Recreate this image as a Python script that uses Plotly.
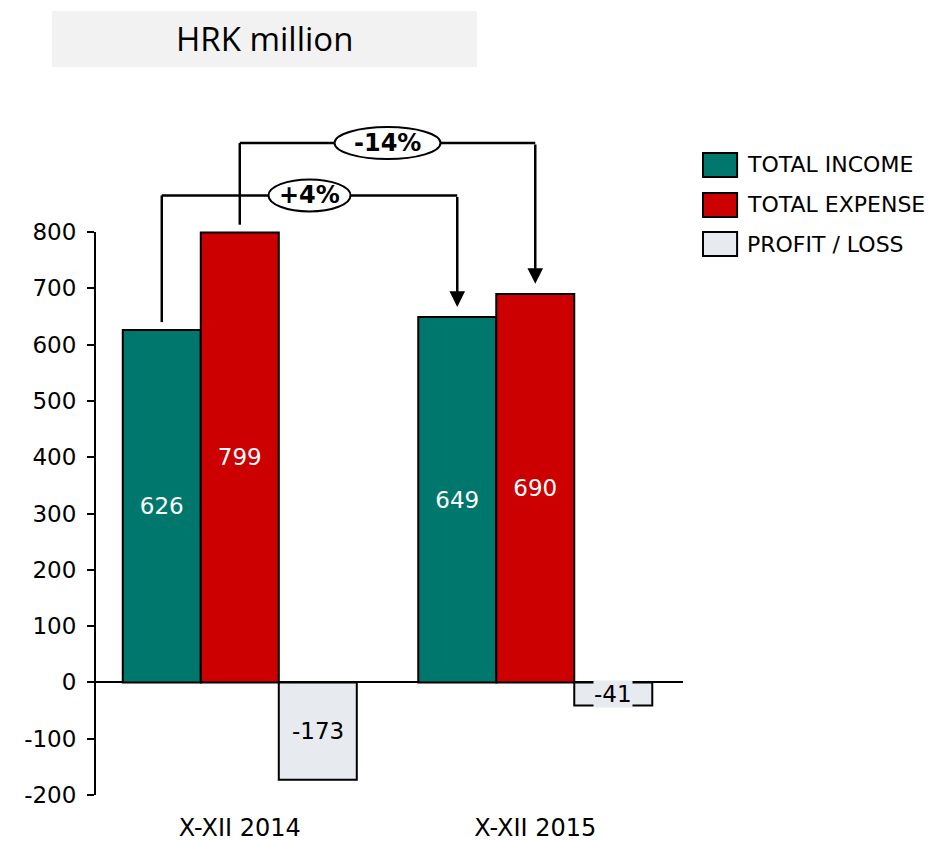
import plotly.graph_objects as go

# ---------------- data ----------------
categories = ["X-XII 2014", "X-XII 2015"]
series_names = ["TOTAL INCOME", "TOTAL EXPENSE", "PROFIT / LOSS"]
total_income = [626, 649]
total_expense = [799, 690]
profit_loss = [-173, -41]
y_tickvals = [-200, -100, 0, 100, 200, 300, 400, 500, 600, 700, 800]
y_ticktext = ["-200", "-100", "0", "100", "200", "300", "400", "500", "600", "700", "800"]
title_text = "HRK million"

# ---------------- style ----------------
COLORS = ["#00776D", "#CC0000", "#E7EAEE"]
TEXT_COLORS = ["white", "white", "black"]
FONT = "DejaVu Sans"
FS = 23
BARGAP = 0.208
BAR_W = (1 - BARGAP) / 3
OFFSETS = [-BAR_W, 0.0, BAR_W]
Y_MIN, Y_MAX_AXIS, Y_TOP = -200, 800, 1034.5
START_GAP, TIP_GAP = 14, 18
BRACKET_LEVELS = [865, 958]  # vertical level of the two comparison brackets

series = [total_income, total_expense, profit_loss]

fig = go.Figure()
for i, (name, vals) in enumerate(zip(series_names, series)):
    show_text = i < 2
    fig.add_trace(go.Bar(
        x=categories, y=vals, name=name,
        marker=dict(color=COLORS[i], line=dict(color="black", width=2)),
        texttemplate="%{y}" if show_text else "",
        textposition="inside", insidetextanchor="middle", textangle=0,
        constraintext="none",
        textfont=dict(color=TEXT_COLORS[i], size=FS, family=FONT),
        showlegend=False,
    ))

shapes = []
annotations = []

# y axis line (only from -200 to 800)
shapes.append(dict(type="line", xref="paper", yref="y", x0=0, x1=0,
                   y0=Y_MIN, y1=Y_MAX_AXIS, line=dict(color="black", width=2)))

# profit/loss labels with background
for j, v in enumerate(profit_loss):
    annotations.append(dict(x=j + OFFSETS[2], y=v / 2, xref="x", yref="y",
                            xanchor="center", yanchor="middle",
                            text=str(v), showarrow=False, bgcolor=COLORS[2],
                            borderpad=0, font=dict(size=FS, color="black", family=FONT)))

# comparison brackets: income (series 0) and expense (series 1)
for s_idx, level in zip([0, 1], BRACKET_LEVELS):
    vals = series[s_idx]
    xa = 0 + OFFSETS[s_idx]
    xb = 1 + OFFSETS[s_idx]
    shapes.append(dict(type="line", xref="x", yref="y", x0=xa, x1=xa,
                       y0=vals[0] + START_GAP, y1=level,
                       line=dict(color="black", width=2.5), layer="above"))
    shapes.append(dict(type="line", xref="x", yref="y", x0=xa, x1=xb,
                       y0=level, y1=level,
                       line=dict(color="black", width=2.5), layer="above"))
    annotations.append(dict(x=xb, y=vals[1] + TIP_GAP, ax=xb, ay=level,
                            xref="x", yref="y", axref="x", ayref="y",
                            text="", showarrow=True, arrowhead=2, arrowsize=1.25,
                            arrowwidth=2.5, arrowcolor="black", standoff=0))
    pct = round((vals[1] / vals[0] - 1) * 100)
    label = f"{pct:+d}%"
    mid = (xa + xb) / 2
    half_w = 12 * len(label) + 5
    shapes.append(dict(type="circle", xref="x", yref="y",
                       xsizemode="pixel", ysizemode="pixel",
                       xanchor=mid, yanchor=level,
                       x0=-half_w, x1=half_w, y0=-16, y1=16,
                       fillcolor="white", line=dict(color="black", width=2),
                       layer="above"))
    annotations.append(dict(x=mid, y=level, xref="x", yref="y",
                            xanchor="center", yanchor="middle",
                            text=f"<b>{label}</b>", showarrow=False,
                            font=dict(size=24, color="black", family=FONT)))

# legend (custom)
legend_y = [0.9065, 0.849, 0.7928]
for i, name in enumerate(series_names):
    yc = legend_y[i]
    shapes.append(dict(type="rect", xref="paper", yref="paper",
                       x0=1.034, x1=1.092, y0=yc - 0.0173, y1=yc + 0.0173,
                       fillcolor=COLORS[i], line=dict(color="black", width=2)))
    annotations.append(dict(x=1.1054, y=yc, xref="paper", yref="paper",
                            xanchor="left", yanchor="middle", text=name,
                            showarrow=False,
                            font=dict(size=22, color="black", family=FONT)))

# title box
shapes.append(dict(type="rect", xref="paper", yref="paper",
                   x0=-0.0731, x1=0.6497, y0=1.0475, y1=1.128,
                   fillcolor="#F2F2F2", line=dict(width=0), layer="below"))
annotations.append(dict(x=0.288, y=1.0878, xref="paper", yref="paper",
                        xanchor="center", yanchor="middle",
                        text=title_text, showarrow=False,
                        font=dict(size=33, color="black", family="Open Sans")))

# the page body adds an 8px offset, so the figure is 8px smaller in each direction
fig.update_layout(
    width=930, height=833,
    margin=dict(l=87, r=255, t=92, b=46, autoexpand=False),
    plot_bgcolor="white", paper_bgcolor="white",
    barmode="group", bargap=BARGAP, bargroupgap=0,
    font=dict(family=FONT, size=FS, color="black"),
    showlegend=False,
    shapes=shapes, annotations=annotations,
    xaxis=dict(type="category", range=[-0.49, 1.5], showline=False,
               showgrid=False, zeroline=False, ticks="outside", ticklen=11,
               tickcolor="rgba(0,0,0,0)", tickfont=dict(size=24, family=FONT),
               automargin=False),
    yaxis=dict(range=[Y_MIN, Y_TOP], tickvals=y_tickvals, ticktext=y_ticktext,
               showgrid=False, showline=False, zeroline=True,
               zerolinecolor="black", zerolinewidth=2, ticks="outside",
               ticklen=7, tickwidth=2, tickcolor="black", ticklabelstandoff=6,
               tickfont=dict(size=FS, family=FONT), automargin=False),
)

fig.write_html("out.html")
